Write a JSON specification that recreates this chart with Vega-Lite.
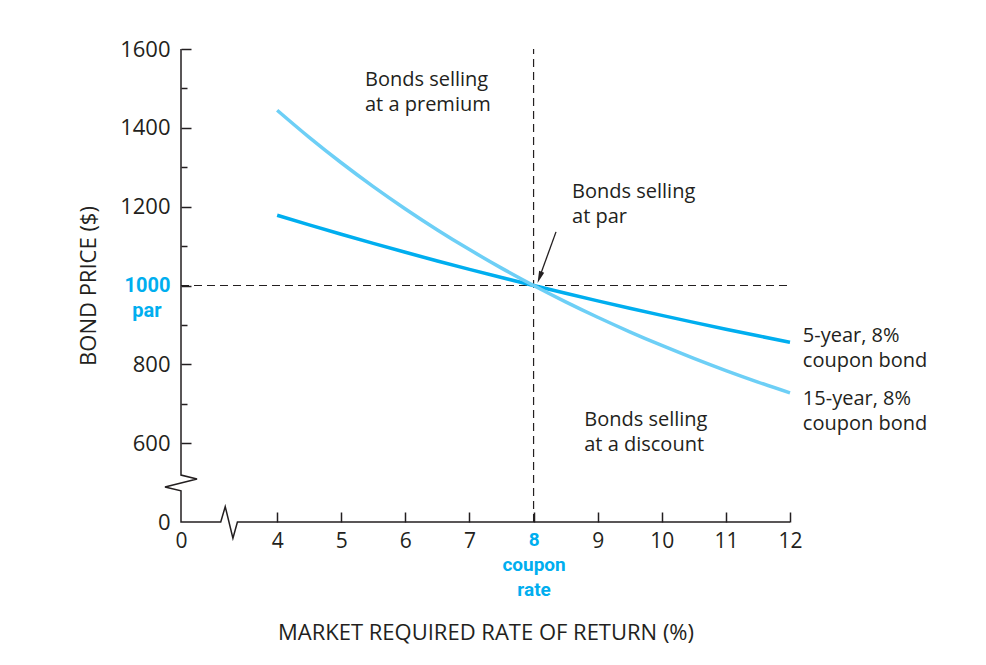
{
  "$schema": "https://vega.github.io/schema/vega-lite/v6.json",
  "width": 609,
  "height": 473,
  "autosize": "none",
  "padding": {"left": 181, "top": 49, "right": 196, "bottom": 143},
  "background": "white",
  "config": {"view": {"stroke": null}, "font": "Open Sans"},
  "datasets": {
    "curves": [
      {"rate": 4, "price": 1178.1, "bond": "5-year"},
      {"rate": 4.5, "price": 1153.7, "bond": "5-year"},
      {"rate": 5, "price": 1129.9, "bond": "5-year"},
      {"rate": 5.5, "price": 1106.8, "bond": "5-year"},
      {"rate": 6, "price": 1084.2, "bond": "5-year"},
      {"rate": 6.5, "price": 1062.3, "bond": "5-year"},
      {"rate": 7, "price": 1041.0, "bond": "5-year"},
      {"rate": 7.5, "price": 1020.2, "bond": "5-year"},
      {"rate": 8, "price": 1000, "bond": "5-year"},
      {"rate": 8.5, "price": 980.3, "bond": "5-year"},
      {"rate": 9, "price": 961.1, "bond": "5-year"},
      {"rate": 9.5, "price": 942.4, "bond": "5-year"},
      {"rate": 10, "price": 924.2, "bond": "5-year"},
      {"rate": 10.5, "price": 906.4, "bond": "5-year"},
      {"rate": 11, "price": 889.1, "bond": "5-year"},
      {"rate": 11.5, "price": 872.3, "bond": "5-year"},
      {"rate": 12, "price": 855.8, "bond": "5-year"},
      {"rate": 4, "price": 1444.7, "bond": "15-year"},
      {"rate": 4.5, "price": 1375.9, "bond": "15-year"},
      {"rate": 5, "price": 1311.4, "bond": "15-year"},
      {"rate": 5.5, "price": 1250.9, "bond": "15-year"},
      {"rate": 6, "price": 1194.2, "bond": "15-year"},
      {"rate": 6.5, "price": 1141.0, "bond": "15-year"},
      {"rate": 7, "price": 1091.1, "bond": "15-year"},
      {"rate": 7.5, "price": 1044.1, "bond": "15-year"},
      {"rate": 8, "price": 1000, "bond": "15-year"},
      {"rate": 8.5, "price": 958.5, "bond": "15-year"},
      {"rate": 9, "price": 919.4, "bond": "15-year"},
      {"rate": 9.5, "price": 882.6, "bond": "15-year"},
      {"rate": 10, "price": 847.9, "bond": "15-year"},
      {"rate": 10.5, "price": 815.2, "bond": "15-year"},
      {"rate": 11, "price": 784.3, "bond": "15-year"},
      {"rate": 11.5, "price": 755.1, "bond": "15-year"},
      {"rate": 12, "price": 727.6, "bond": "15-year"}
    ],
    "axisLine": [
      {"seq": 1, "rate": 2.5, "price": 1600},
      {"seq": 2, "rate": 2.5, "price": 519},
      {"seq": 3, "rate": 2.75, "price": 509},
      {"seq": 4, "rate": 2.25, "price": 489},
      {"seq": 5, "rate": 2.5, "price": 479},
      {"seq": 6, "rate": 2.5, "price": 400},
      {"seq": 7, "rate": 3.12, "price": 400},
      {"seq": 8, "rate": 3.19, "price": 439},
      {"seq": 9, "rate": 3.31, "price": 359},
      {"seq": 10, "rate": 3.38, "price": 400},
      {"seq": 11, "rate": 12, "price": 400}
    ],
    "refs": [
      {"rate": 8, "price": 400, "rate2": 8, "price2": 1600},
      {"rate": 2.5, "price": 1000, "rate2": 12, "price2": 1000}
    ],
    "arrow": [
      {"rate": 8.35, "price": 1136, "rate2": 8.1, "price2": 1024}
    ],
    "arrowHead": [
      {"rate": 8.094, "price": 1020.5}
    ],
    "notes": [
      {"rate": 5.37, "price": 1521, "lines": ["Bonds selling", "at a premium"]},
      {"rate": 8.6, "price": 1237, "lines": ["Bonds selling", "at par"]},
      {"rate": 8.79, "price": 659, "lines": ["Bonds selling", "at a discount"]},
      {"rate": 12.2, "price": 872, "lines": ["5-year, 8%", "coupon bond"]},
      {"rate": 12.2, "price": 712, "lines": ["15-year, 8%", "coupon bond"]}
    ],
    "parLabel": [
      {"rate": 2.5, "price": 1000, "lines": "par"}
    ]
  },
  "encoding": {
    "x": {
      "field": "rate",
      "type": "quantitative",
      "title": "MARKET REQUIRED RATE OF RETURN (%)",
      "scale": {"domain": [2.5, 12], "nice": false, "zero": false},
      "axis": {
        "values": [2.5, 4, 5, 6, 7, 8, 9, 10, 11, 12],
        "domain": false,
        "grid": false,
        "tickSize": -10,
        "tickWidth": 1.5,
        "tickColor": "#231f20",
        "tickOpacity": {"condition": {"test": "datum.value == 2.5", "value": 0}, "value": 1},
        "labelExpr": "datum.value == 2.5 ? '0' : (datum.value == 8 ? ['8', 'coupon', 'rate'] : '' + datum.value)",
        "labelFont": {"condition": {"test": "datum.value == 8", "value": "Roboto"}, "value": "Open Sans"},
        "labelFontSize": {"condition": {"test": "datum.value == 8", "value": 19}, "value": 21},
        "labelColor": {"condition": {"test": "datum.value == 8", "value": "#00aeef"}, "value": "#231f20"},
        "labelFontWeight": {"condition": {"test": "datum.value == 8", "value": "bold"}, "value": "normal"},
        "labelPadding": 18,
        "labelLineHeight": 25,
        "labelBaseline": "top",
        "labelFlush": false,
        "labelOverlap": false,
        "titleFont": "Open Sans",
        "titleFontSize": 22,
        "titleFontWeight": "normal",
        "titleColor": "#231f20",
        "titleY": 110,
        "titleBaseline": "middle"
      }
    },
    "y": {
      "field": "price",
      "type": "quantitative",
      "title": "BOND PRICE ($)",
      "scale": {"domain": [400, 1600], "nice": false, "zero": false},
      "axis": {
        "values": [400, 600, 700, 800, 900, 1000, 1100, 1200, 1300, 1400, 1500, 1600],
        "domain": false,
        "grid": false,
        "tickSize": {"condition": {"test": "datum.value % 200 == 100", "value": -6}, "value": -10},
        "tickWidth": 1.5,
        "tickColor": "#231f20",
        "tickOpacity": {"condition": {"test": "datum.value == 400", "value": 0}, "value": 1},
        "labelExpr": "datum.value == 400 ? '0' : (datum.value % 200 == 100 ? '' : '' + datum.value)",
        "labelFont": {"condition": {"test": "datum.value == 1000", "value": "Roboto"}, "value": "Open Sans"},
        "labelFontSize": {"condition": {"test": "datum.value == 1000", "value": 20}, "value": 22},
        "labelColor": {"condition": {"test": "datum.value == 1000", "value": "#00aeef"}, "value": "#231f20"},
        "labelFontWeight": {"condition": {"test": "datum.value == 1000", "value": "bold"}, "value": "normal"},
        "labelPadding": 21,
        "labelFlush": false,
        "labelOverlap": false,
        "titleFont": "Open Sans",
        "titleFontSize": 22,
        "titleFontWeight": "normal",
        "titleColor": "#231f20",
        "titleX": -93,
        "titleBaseline": "middle"
      }
    }
  },
  "layer": [
    {
      "data": {"name": "refs"},
      "mark": {"type": "rule", "stroke": "#231f20", "strokeWidth": 1.2, "strokeDash": [8, 5]},
      "encoding": {"x2": {"field": "rate2"}, "y2": {"field": "price2"}}
    },
    {
      "data": {"name": "axisLine"},
      "mark": {"type": "line", "stroke": "#231f20", "strokeWidth": 1.5, "strokeJoin": "miter"},
      "encoding": {"order": {"field": "seq", "type": "quantitative"}}
    },
    {
      "data": {"name": "curves"},
      "mark": {"type": "line", "strokeWidth": 3.5, "interpolate": "monotone"},
      "encoding": {
        "color": {
          "field": "bond",
          "type": "nominal",
          "scale": {"domain": ["15-year", "5-year"], "range": ["#6dcff6", "#00aeef"]},
          "legend": null
        }
      }
    },
    {
      "data": {"name": "arrow"},
      "mark": {"type": "rule", "stroke": "#231f20", "strokeWidth": 1.3},
      "encoding": {"x2": {"field": "rate2"}, "y2": {"field": "price2"}}
    },
    {
      "data": {"name": "arrowHead"},
      "mark": {"type": "point", "shape": "M0,-1L-0.45,1L0.45,1Z", "filled": true, "fill": "#231f20", "size": 144, "angle": 200, "opacity": 1, "strokeWidth": 0}
    },
    {
      "data": {"name": "notes"},
      "mark": {"type": "text", "align": "left", "baseline": "middle", "fontSize": 20, "lineHeight": 25, "color": "#231f20", "font": "Open Sans"},
      "encoding": {"text": {"field": "lines", "type": "nominal"}}
    },
    {
      "data": {"name": "parLabel"},
      "mark": {"type": "text", "align": "center", "baseline": "middle", "fontSize": 20, "fontWeight": "bold", "color": "#00aeef", "font": "Roboto", "dx": -34, "dy": 25},
      "encoding": {"text": {"field": "lines", "type": "nominal"}}
    }
  ]
}
